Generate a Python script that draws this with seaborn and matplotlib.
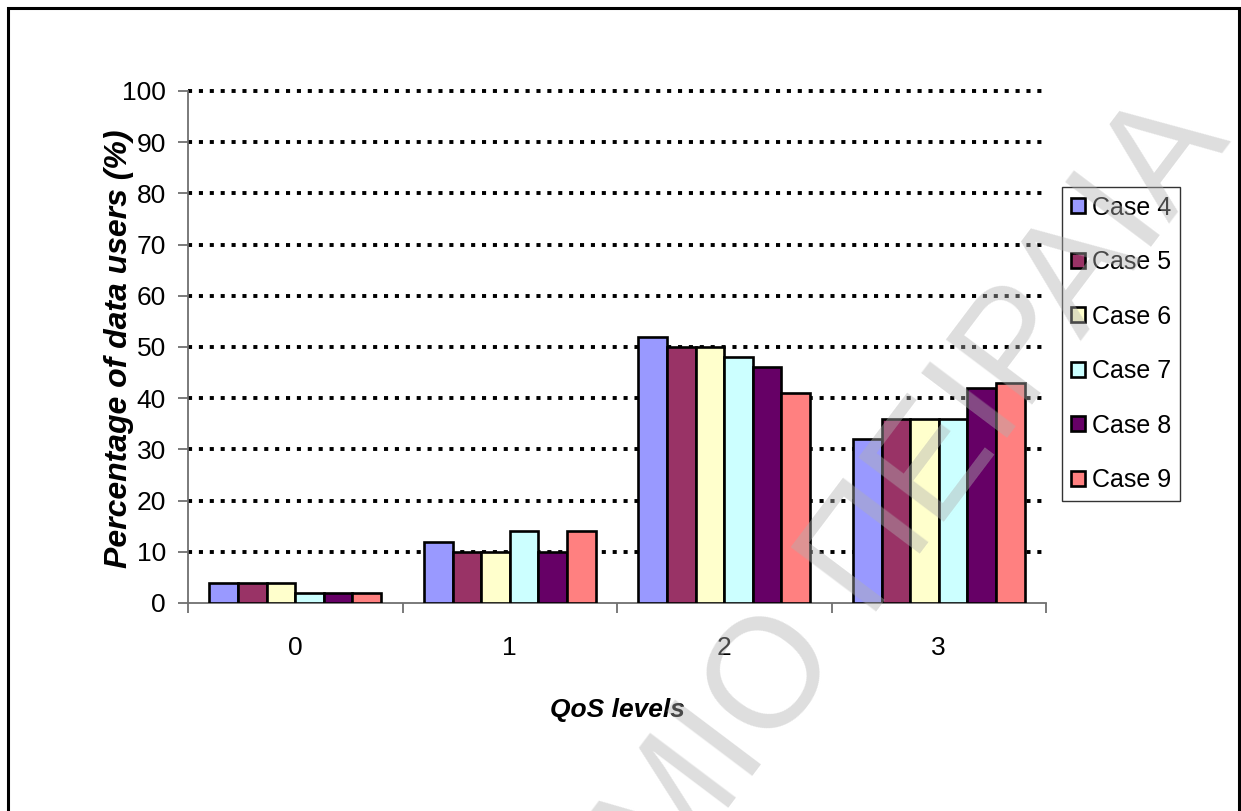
import matplotlib
matplotlib.use("Agg")
import matplotlib.pyplot as plt
from matplotlib.patches import Rectangle
from matplotlib.ticker import FixedLocator
import pandas as pd
import seaborn as sns

# QoS levels on the x axis and the share of data users per case (%)
qos_levels = ["0", "1", "2", "3"]
cases = ["Case 4", "Case 5", "Case 6", "Case 7", "Case 8", "Case 9"]
case4 = [4, 12, 52, 32]
case5 = [4, 10, 50, 36]
case6 = [4, 10, 50, 36]
case7 = [2, 14, 48, 36]
case8 = [2, 10, 46, 42]
case9 = [2, 14, 41, 43]
colors = ["#9999FF", "#993366", "#FFFFCC", "#CCFFFF", "#660066", "#FF8080"]
y_ticks = list(range(0, 101, 10))

series = [case4, case5, case6, case7, case8, case9]
rows = []
for name, vals in zip(cases, series):
    for lvl, v in zip(qos_levels, vals):
        rows.append({"QoS": lvl, "Case": name, "pct": v})
df = pd.DataFrame(rows)

sns.set_style("white")
plt.rcParams["font.family"] = ["Liberation Sans", "DejaVu Sans"]
plt.rcParams["text.color"] = "black"
plt.rcParams["axes.labelcolor"] = "black"
plt.rcParams["xtick.color"] = "black"
plt.rcParams["ytick.color"] = "black"

fig = plt.figure(figsize=(12.41, 8.11), dpi=100)
ax = fig.add_axes([188 / 1241, 1 - 603 / 811, (1046 - 188) / 1241, (603 - 91) / 811])

sns.barplot(data=df, x="QoS", y="pct", hue="Case", order=qos_levels, hue_order=cases,
            palette=colors, saturation=1, width=0.8, edgecolor="black",
            linewidth=1.9, ax=ax, zorder=3)

ax.set_xlim(-0.5, 3.5)
ax.set_ylim(0, 100)
ax.set_yticks(y_ticks)

# dotted horizontal grid behind the bars
for y in y_ticks[1:]:
    ax.axhline(y, color="black", lw=2.8, linestyle=(0, (1.05, 1.75)),
               dash_capstyle="butt", zorder=1, clip_on=False)

for side in ("top", "right"):
    ax.spines[side].set_visible(False)
for side in ("left", "bottom"):
    ax.spines[side].set_color("#707070")
    ax.spines[side].set_linewidth(1.3)

ax.tick_params(axis="y", direction="out", length=7, width=1.3, color="#707070",
               labelcolor="black", labelsize=19, pad=9, left=True)
ax.tick_params(axis="x", which="major", length=0, labelsize=19, pad=24,
               labelcolor="black")
ax.xaxis.set_minor_locator(FixedLocator([-0.5, 0.5, 1.5, 2.5, 3.5]))
ax.tick_params(axis="x", which="minor", direction="out", length=7, width=1.3,
               color="#707070", bottom=True)

ax.set_xlabel("QoS levels", fontsize=19, fontweight="bold", fontstyle="italic")
ax.xaxis.set_label_coords((617 - 188) / 858, (603 - 698) / 512)
ax.set_ylabel("Percentage of data users (%)", fontsize=23, fontweight="bold",
              fontstyle="italic")
ax.yaxis.set_label_coords((134 - 188) / 858, (603 - 349) / 512)

leg = ax.legend(loc="upper left", bbox_to_anchor=(1062 / 1241, 1 - 187 / 811),
                bbox_transform=fig.transFigure, fontsize=18, frameon=True,
                fancybox=False, edgecolor="black", handlelength=0.55,
                handleheight=0.55, handletextpad=0.3, labelspacing=1.22,
                borderpad=0.35, borderaxespad=0)
leg.get_frame().set_linewidth(1.0)
for t in leg.get_texts():
    t.set_color("black")
for h in leg.legend_handles:
    h.set_edgecolor("black")
    h.set_linewidth(1.9)

# page border
fig.patches.append(Rectangle((8 / 1241, -0.05), (1239 - 8) / 1241, 1.05 - 8 / 811,
                             transform=fig.transFigure, fill=False,
                             edgecolor="black", lw=2.2, clip_on=False))

# repository watermark
fig.text(1232 / 1241, 1 - 140 / 811, "ΠΑΝΕΠΙΣΤΗΜΙΟ ΠΕΙΡΑΙΑ", fontsize=112,
         color="#b0b0b0", alpha=0.42, rotation=53, rotation_mode="anchor",
         ha="right", va="baseline", zorder=10)

fig.savefig("out.png", dpi=100)
